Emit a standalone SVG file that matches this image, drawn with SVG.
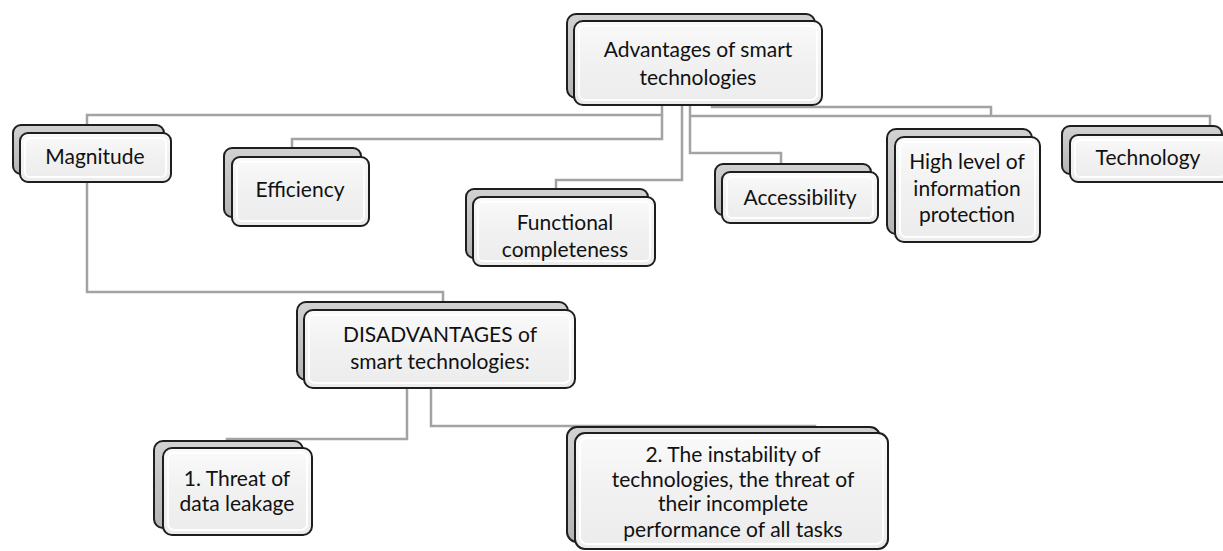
<svg xmlns="http://www.w3.org/2000/svg" width="1223" height="551" viewBox="0 0 1223 551">
<defs>
<linearGradient id="gBack" x1="0" y1="0" x2="0" y2="1">
<stop offset="0" stop-color="#d2d2d2"/>
<stop offset="1" stop-color="#b4b4b4"/>
</linearGradient>
<linearGradient id="gFront" x1="0" y1="0" x2="0" y2="1">
<stop offset="0" stop-color="#fafafa"/>
<stop offset="0.5" stop-color="#f1f1f1"/>
<stop offset="1" stop-color="#ececec"/>
</linearGradient>
</defs>
<style>
.back{fill:url(#gBack);stroke:#1e1e1e;stroke-width:2}
.front{fill:url(#gFront);stroke:#1e1e1e;stroke-width:2}
.hl{fill:none;stroke:#ffffff;stroke-width:2;opacity:0.9}
.conn{fill:none;stroke:#a3a3a3;stroke-width:2.5}
text{font-family:Lato,"Open Sans",sans-serif;font-size:21px;fill:#111;text-anchor:middle}
</style>
<rect width="1223" height="551" fill="#ffffff"/>
<g id="connectors">
<path class="conn" d="M662,105 V115 H87 V125"/>
<path class="conn" d="M662,115 V139 H292 V148"/>
<path class="conn" d="M682,105 V180 H556 V189"/>
<path class="conn" d="M690,105 V153 H781 V164"/>
<path class="conn" d="M712,105 V107 H991 V117"/>
<path class="conn" d="M690,116 H1210 V126"/>
<path class="conn" d="M87,182 V292 H443 V302"/>
<path class="conn" d="M407,388 V439 H227 V441"/>
<path class="conn" d="M431,388 V426 H815 V427"/>
</g>
<g id="n-main">
<rect class="back" x="567" y="14" width="248" height="84" rx="9"/>
<rect class="front" x="574" y="21" width="248" height="84" rx="9"/>
<rect class="hl" x="579" y="26" width="238" height="74" rx="6"/>
<text x="698" y="57">Advantages of smart</text>
<text x="698" y="85">technologies</text>
</g>
<g id="n-magnitude">
<rect class="back" x="13" y="125" width="151" height="49" rx="8"/>
<rect class="front" x="20" y="133" width="151" height="49" rx="8"/>
<rect class="hl" x="25" y="138" width="141" height="39" rx="5"/>
<text x="95" y="164">Magnitude</text>
</g>
<g id="n-efficiency">
<rect class="back" x="224" y="148" width="137" height="69" rx="8"/>
<rect class="front" x="232" y="157" width="137" height="69" rx="8"/>
<rect class="hl" x="237" y="162" width="127" height="59" rx="5"/>
<text x="300" y="197">Efficiency</text>
</g>
<g id="n-functional">
<rect class="back" x="466" y="189" width="182" height="69" rx="8"/>
<rect class="front" x="473" y="197" width="182" height="69" rx="8"/>
<rect class="hl" x="478" y="202" width="172" height="59" rx="5"/>
<text x="565" y="230">Functional</text>
<text x="565" y="257">completeness</text>
</g>
<g id="n-accessibility">
<rect class="back" x="715" y="164" width="156" height="51" rx="8"/>
<rect class="front" x="722" y="172" width="156" height="51" rx="8"/>
<rect class="hl" x="727" y="177" width="146" height="41" rx="5"/>
<text x="800" y="205">Accessibility</text>
</g>
<g id="n-protection">
<rect class="back" x="887" y="129" width="145" height="105" rx="9"/>
<rect class="front" x="895" y="137" width="145" height="105" rx="9"/>
<rect class="hl" x="900" y="142" width="135" height="95" rx="6"/>
<text x="967" y="169">High level of</text>
<text x="967" y="196">information</text>
<text x="967" y="222">protection</text>
</g>
<g id="n-technology">
<rect class="back" x="1062" y="126" width="160" height="48" rx="8"/>
<rect class="front" x="1070" y="135" width="160" height="47" rx="8"/>
<rect class="hl" x="1075" y="140" width="150" height="37" rx="5"/>
<text x="1148" y="165">Technology</text>
</g>
<g id="n-disadvantages">
<rect class="back" x="297" y="302" width="271" height="78" rx="9"/>
<rect class="front" x="304" y="310" width="271" height="78" rx="9"/>
<rect class="hl" x="309" y="315" width="261" height="68" rx="6"/>
<text x="440" y="342">DISADVANTAGES of</text>
<text x="440" y="369">smart technologies:</text>
</g>
<g id="n-leakage">
<rect class="back" x="154" y="441" width="149" height="87" rx="9"/>
<rect class="front" x="163" y="448" width="149" height="87" rx="9"/>
<rect class="hl" x="168" y="453" width="139" height="77" rx="6"/>
<text x="237" y="486">1. Threat of</text>
<text x="237" y="511">data leakage</text>
</g>
<g id="n-instability">
<rect class="back" x="567" y="427" width="313" height="115" rx="10"/>
<rect class="front" x="575" y="433" width="313" height="116" rx="10"/>
<rect class="hl" x="580" y="438" width="303" height="106" rx="7"/>
<text x="733" y="462">2. The instability of</text>
<text x="733" y="487">technologies, the threat of</text>
<text x="733" y="511">their incomplete</text>
<text x="733" y="537">performance of all tasks</text>
</g>
</svg>
